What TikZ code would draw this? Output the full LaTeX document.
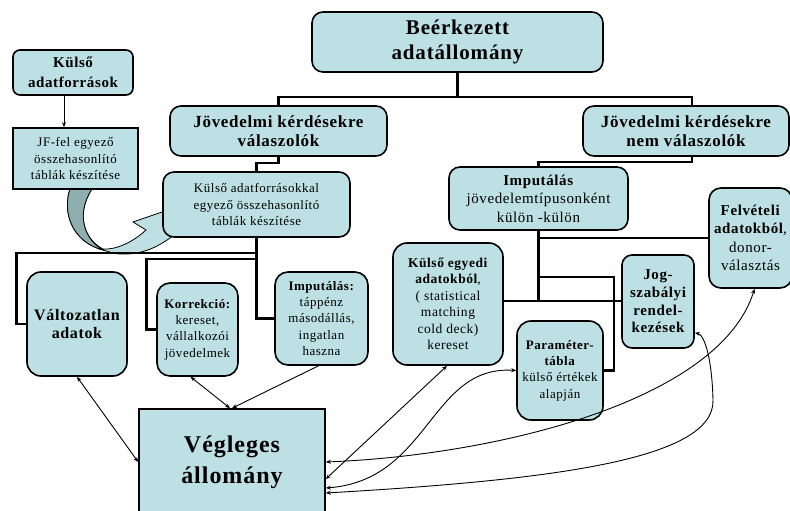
\documentclass[tikz,border=0pt]{standalone}
\usepackage{fontspec}
\setmainfont{Liberation Serif}[LetterSpace=4]
\usetikzlibrary{arrows.meta,calc}
\definecolor{boxfill}{RGB}{188,224,228}
\definecolor{arrdark}{RGB}{143,174,176}
\definecolor{arrlight}{RGB}{190,224,228}
\tikzset{
  rbox/.style={draw=black, line width=1.6pt, fill=boxfill, rounded corners=11pt, align=center, inner sep=0pt},
  sbox/.style={draw=black, line width=1.6pt, fill=boxfill, align=center, inner sep=0pt},
  conn/.style={line width=2.6pt},
  arrone/.style={line width=0.9pt, -{Stealth[length=5pt,width=4pt]}},
  arrboth/.style={line width=0.9pt, {Stealth[length=5pt,width=4pt]}-{Stealth[length=5pt,width=4pt]}},
  fsmall/.style={font=\fontsize{13}{16.3}\selectfont},
}
\begin{document}
\begin{tikzpicture}[x=1pt,y=-1pt]
\useasboundingbox (0,0) rectangle (790,511);

% block arrow (ribbon)
\path[fill=arrlight, draw=black, line width=0.8pt]
  (70,189) .. controls (62,212) and (72,242) .. (103,250)
  .. controls (110,252) and (115,254) .. (120,254)
  .. controls (145,255) and (160,245) .. (173,236)
  -- (186,224) -- (162,212) -- (133,222) -- (146,230)
  .. controls (132,243) and (115,250) .. (103,249)
  .. controls (85,240) and (75,215) .. (92,189) -- cycle;
\path[fill=arrdark, draw=black, line width=0.8pt]
  (70,189) .. controls (62,212) and (72,242) .. (103,250)
  .. controls (85,240) and (75,215) .. (92,189) -- cycle;

% nodes
\node[rbox, minimum width=291pt, minimum height=60pt, font=\fontsize{21}{25}\selectfont\bfseries] (top) at (457.5,42) {Beérkezett\\adatállomány};
\node[rbox, minimum width=217pt, minimum height=50pt, font=\fontsize{17}{19.5}\selectfont\bfseries] (jv) at (278.5,131) {Jövedelmi kérdésekre\\válaszolók};
\node[rbox, minimum width=206pt, minimum height=50pt, font=\fontsize{17}{19.5}\selectfont\bfseries] (jnv) at (686,131) {Jövedelmi kérdésekre\\nem válaszolók};
\node[rbox, rounded corners=7pt, minimum width=120pt, minimum height=45pt, font=\fontsize{15}{20}\selectfont\bfseries] (kaf) at (73,72.5) {Külső\\adatforrások};
\node[sbox, minimum width=125pt, minimum height=61pt, fsmall] (jf) at (75.5,158.5) {JF-fel egyező\\összehasonlító\\táblák készítése};
\node[rbox, minimum width=187pt, minimum height=65pt, fsmall] (kak) at (256.5,204.5) {Külső adatforrásokkal\\egyező összehasonlító\\táblák készítése};
\node[rbox, rounded corners=14pt, minimum width=100pt, minimum height=104pt, font=\fontsize{16}{17.5}\selectfont\bfseries] (va) at (77,324) {Változatlan\\adatok};
\node[rbox, rounded corners=13pt, minimum width=81pt, minimum height=93pt, fsmall] (ko) at (197.5,329.5) {\textbf{Korrekció:}\\kereset,\\vállalkozói\\jövedelmek};
\node[rbox, rounded corners=13pt, minimum width=93pt, minimum height=93pt, fsmall] (im1) at (321.5,318.5) {\textbf{Imputálás:}\\táppénz\\másodállás,\\ingatlan\\haszna};
\node[sbox, minimum width=186pt, minimum height=106pt, font=\fontsize{24}{31}\selectfont\bfseries] (ve) at (232,462) {Végleges\\állomány};
\node[rbox, minimum width=179pt, minimum height=63pt, font=\fontsize{15}{18.5}\selectfont] (im2) at (538.5,198.5) {\textbf{Imputálás}\\jövedelemtípusonként\\külön -külön};
\node[rbox, rounded corners=14pt, minimum width=110pt, minimum height=122pt, font=\fontsize{13.5}{16.5}\selectfont] (ke) at (448,304) {\textbf{Külső egyedi}\\\textbf{adatokból},\\( statistical\\matching\\cold deck)\\kereset};
\node[rbox, rounded corners=14pt, minimum width=86pt, minimum height=99pt, fsmall] (pt) at (560,370.5) {\textbf{Paraméter-}\\\textbf{tábla}\\külső értékek\\alapján};
\node[rbox, rounded corners=10pt, minimum width=72pt, minimum height=93pt, font=\fontsize{15}{17.7}\selectfont\bfseries] (jog) at (658,301.5) {Jog-\\szabályi\\rendel-\\kezések};
\node[rbox, rounded corners=12pt, minimum width=83pt, minimum height=100pt, font=\fontsize{15}{18.5}\selectfont] (fv) at (750.5,238) {\textbf{Felvételi}\\\textbf{adatokból},\\donor-\\választás};

% org connectors
\coordinate (b1) at (459,97);
\draw[conn] (top.south) -- (top.south |- b1);
\draw[conn] (jv.north) |- (b1) -| ([xshift=6pt]jnv.north);
\draw[conn] (jv.south) -- ++(0,6) -| (kak.north);
\draw[conn] (kak.south) |- (im1.west);
\coordinate (j1) at (256.5,253);
\coordinate (j2) at (256.5,259);
\draw[conn] (j1) -| ([xshift=-10pt]va.west) -- (va.west);
\draw[conn] (j2) -| ([xshift=-10pt]ko.west) -- (ko.west);

\draw[conn] ([xshift=6pt]jnv.south) -- ++(0,5) -| (im2.north);
\draw[conn] (im2.south) -- ++(0,70) coordinate (j5);
\coordinate (j3) at (538.5,238);
\coordinate (j4) at (538.5,277);
\draw[conn] (j3) -- (j3 -| fv.west);
\draw[conn] (j4) -| ([xshift=10pt]pt.east) -- (pt.east);
\draw[conn] (j5 -| ke.east) -- (j5 -| jog.west);

% JF arrow
\draw[arrone] ([xshift=-9pt]kaf.south) -- ([xshift=-9pt]kaf.south |- jf.north);

% arrows to Végleges
\draw[arrboth] (va.south) -- (ve.west);
\draw[arrboth] ([xshift=-7pt]ko.south) -- ([xshift=-2pt]ve.north);
\draw[arrone] ([xshift=-3pt]im1.south) -- (ve.north);
\draw[arrboth] ([xshift=-1pt]ke.south) -- ([yshift=-17pt]ve.east);
\draw[arrboth] (pt.west) .. controls (430,365) and (430,480) .. ([yshift=-26pt]ve.east);
\draw[arrboth] ([xshift=4pt]fv.south) .. controls (720,400) and (500,455) .. (ve.east);
\draw[arrboth] ([yshift=16pt]jog.south east) .. controls (705,335) and (712,360) .. (713,400) .. controls (715,460) and (550,480) .. ([yshift=-31pt]ve.east);
\end{tikzpicture}
\end{document}
